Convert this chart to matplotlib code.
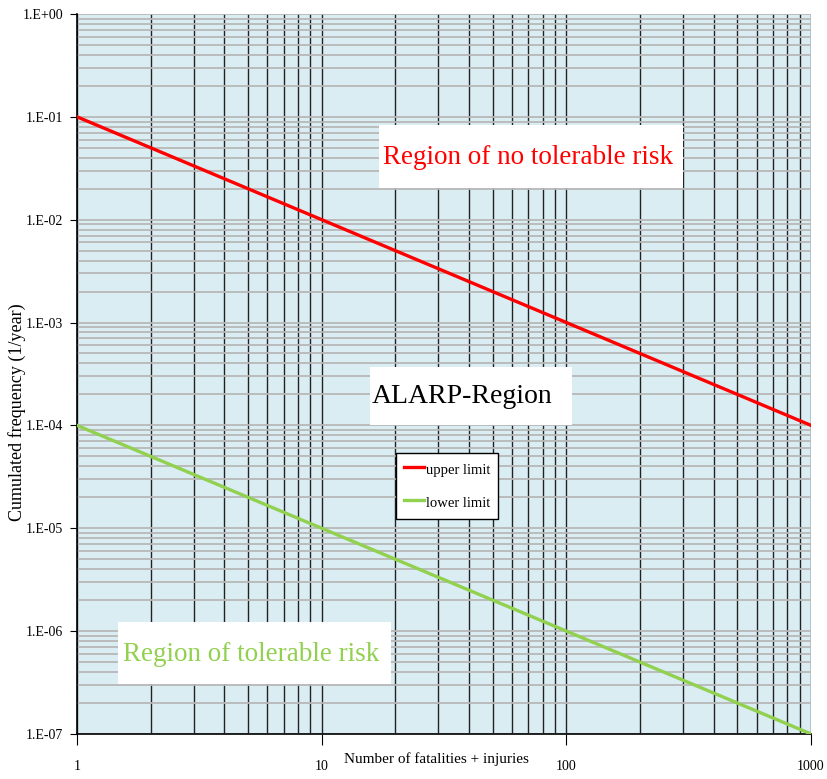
import matplotlib.pyplot as plt
from matplotlib.patches import Rectangle
from matplotlib.ticker import FixedLocator, LogLocator, NullFormatter

# data
fatalities = [1, 10, 100, 1000]
upper_limit = [1e-1, 1e-2, 1e-3, 1e-4]
lower_limit = [1e-4, 1e-5, 1e-6, 1e-7]
x_ticks = [1, 10, 100, 1000]
x_tick_labels = ["1", "10", "100", "1000"]
y_ticks = [1e-7, 1e-6, 1e-5, 1e-4, 1e-3, 1e-2, 1e-1, 1e0]
y_tick_labels = ["1.E-07", "1.E-06", "1.E-05", "1.E-04", "1.E-03", "1.E-02", "1.E-01", "1.E+00"]

plt.rcParams['font.family'] = ['Liberation Serif', 'DejaVu Serif']

fig = plt.figure(figsize=(8.27, 7.79), dpi=100)
ax = fig.add_axes([0.0931, 0.0578, 0.8876, 0.9243])
ax.set_facecolor('#daedf3')
ax.set_xscale('log')
ax.set_yscale('log')
ax.set_xlim(1, 1000)
ax.set_ylim(1e-7, 1)

# grid: black verticals, grey horizontals
ax.xaxis.set_minor_locator(LogLocator(base=10, subs=range(2, 10)))
ax.yaxis.set_minor_locator(LogLocator(base=10, subs=range(2, 10)))
ax.xaxis.set_minor_formatter(NullFormatter())
ax.yaxis.set_minor_formatter(NullFormatter())
ax.grid(True, which='both', axis='x', color='#222222', linewidth=1.0)
ax.grid(True, which='both', axis='y', color='#b8b8b8', linewidth=1.3)
ax.set_axisbelow(True)
ax.tick_params(which='minor', length=0)

ax.xaxis.set_major_locator(FixedLocator(x_ticks))
ax.set_xticklabels(x_tick_labels)
ax.yaxis.set_major_locator(FixedLocator(y_ticks))
ax.set_yticklabels(y_tick_labels)
ax.tick_params(axis='x', which='major', length=8, pad=11, labelsize=10, direction='out')
ax.tick_params(axis='y', which='major', length=5, pad=5, labelsize=10, direction='out')

for side in ['top', 'right']:
    ax.spines[side].set_visible(False)
ax.spines['left'].set_linewidth(1.2)
ax.spines['bottom'].set_linewidth(1.2)

ax.plot(fatalities, upper_limit, color='#ff0000', linewidth=2.4, label='upper limit', zorder=3)
ax.plot(fatalities, lower_limit, color='#92d050', linewidth=2.4, label='lower limit', zorder=3)

# region labels on white boxes
ax.add_patch(Rectangle((0.411, 0.758), 0.414, 0.088, transform=ax.transAxes,
                       facecolor='white', edgecolor='none', zorder=4))
ax.text(0.615, 0.801, "Region of no tolerable risk", transform=ax.transAxes,
        color='#ff0000', fontsize=19.5, ha='center', va='center', zorder=5)

ax.add_patch(Rectangle((0.399, 0.429), 0.275, 0.081, transform=ax.transAxes,
                       facecolor='white', edgecolor='none', zorder=4))
ax.text(0.524, 0.469, "ALARP-Region", transform=ax.transAxes,
        color='black', fontsize=20, ha='center', va='center', zorder=5)

ax.add_patch(Rectangle((0.056, 0.069), 0.372, 0.087, transform=ax.transAxes,
                       facecolor='white', edgecolor='none', zorder=4))
ax.text(0.237, 0.110, "Region of tolerable risk", transform=ax.transAxes,
        color='#92d050', fontsize=19.5, ha='center', va='center', zorder=5)

leg = ax.legend(loc='lower left', bbox_to_anchor=(0.435, 0.299), fontsize=10.5,
                frameon=True, fancybox=False, edgecolor='black', framealpha=1,
                handlelength=1.4, handleheight=1.6, handletextpad=0.15,
                labelspacing=0.95, borderpad=0.5, borderaxespad=0)
leg.get_frame().set_linewidth(1.0)
leg.set_zorder(6)

ax.set_xlabel("Number of fatalities + injuries", fontsize=11)
ax.xaxis.label.set_va('center')
ax.xaxis.set_label_coords(0.490, -0.035)
ax.set_ylabel("Cumulated frequency (1/year)", fontsize=13)
ax.yaxis.label.set_va('center')
ax.yaxis.set_label_coords(-0.082, 0.447)

fig.savefig('out.png', dpi=100)
